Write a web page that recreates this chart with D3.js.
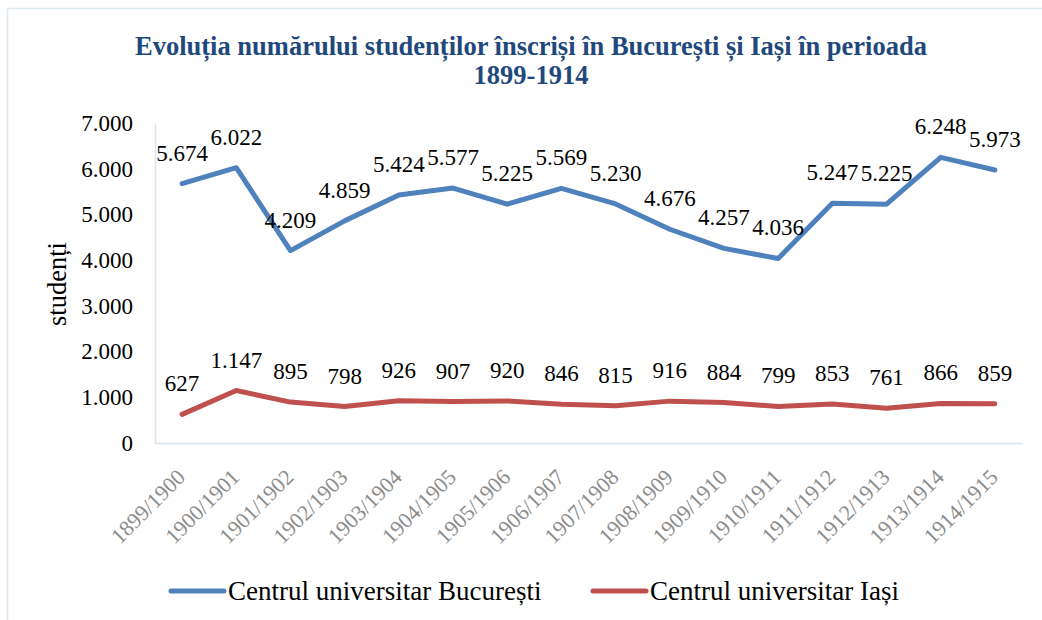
<!DOCTYPE html>
<html>
<head>
<meta charset="utf-8">
<script src="https://cdn.jsdelivr.net/npm/d3@7"></script>
<style>
  body { margin: 0; background: #fff; }
  svg { display: block; font-family: "Liberation Serif", "Times New Roman", serif; }
</style>
</head>
<body>
<div id="chart"></div>
<script>
const years = ['1899/1900', '1900/1901', '1901/1902', '1902/1903', '1903/1904', '1904/1905',
  '1905/1906', '1906/1907', '1907/1908', '1908/1909', '1909/1910', '1910/1911',
  '1911/1912', '1912/1913', '1913/1914', '1914/1915'];
const bucuresti = [5674, 6022, 4209, 4859, 5424, 5577, 5225, 5569, 5230, 4676, 4257, 4036, 5247, 5225, 6248, 5973];
const iasi = [627, 1147, 895, 798, 926, 907, 920, 846, 815, 916, 884, 799, 853, 761, 866, 859];
const yTicks = [0, 1000, 2000, 3000, 4000, 5000, 6000, 7000];
const seriesNames = ['Centrul universitar București', 'Centrul universitar Iași'];
const titleLines = ['Evoluția numărului studenților înscriși în București și Iași în perioada', '1899-1914'];

const width = 1042, height = 620;
const margin = { top: 123, right: 20, bottom: 177, left: 155 };
const innerW = width - margin.left - margin.right;
const innerH = height - margin.top - margin.bottom;

const ro = d3.formatLocale({ decimal: ',', thousands: '.', grouping: [3], currency: ['', ' lei'] });
const fmt = ro.format(',d');

const svg = d3.select('#chart').append('svg')
  .attr('width', width)
  .attr('height', height);

// chart frame (only top/left edges fall inside the picture)
svg.append('rect')
  .attr('x', 7.5).attr('y', 8.5)
  .attr('width', width + 20).attr('height', height + 20)
  .attr('fill', 'none')
  .attr('stroke', '#dbe9f1')
  .attr('stroke-width', 1.5);

// title
svg.append('text')
  .attr('x', 531)
  .attr('text-anchor', 'middle')
  .attr('font-size', '26.5px')
  .attr('font-weight', 'bold')
  .attr('fill', '#1f497d')
  .selectAll('tspan')
  .data(titleLines)
  .enter().append('tspan')
  .attr('x', 531)
  .attr('y', (d, i) => 55 + i * 29)
  .text(d => d);

const g = svg.append('g').attr('transform', `translate(${margin.left},${margin.top})`);

const x = d3.scaleBand().domain(years).range([0, innerW]);
const y = d3.scaleLinear().domain([0, 7000]).range([innerH, 0]);
const cx = d => x(d) + x.bandwidth() / 2;

// y axis
const yAxis = d3.axisLeft(y).tickValues(yTicks).tickSize(0).tickPadding(22).tickFormat(d => fmt(d));
g.append('g')
  .call(yAxis)
  .call(s => s.select('.domain').attr('stroke', '#d5e6ef').attr('stroke-width', 1.5))
  .call(s => s.selectAll('.tick text')
    .attr('font-family', '"Liberation Serif", serif')
    .attr('font-size', '23px')
    .attr('fill', '#000'));

// x axis
const xAxis = d3.axisBottom(x).tickSize(0).tickPadding(0);
g.append('g')
  .attr('transform', `translate(0,${innerH})`)
  .call(xAxis)
  .call(s => s.select('.domain').attr('stroke', '#d5e6ef').attr('stroke-width', 1.5))
  .call(s => s.selectAll('.tick text')
    .attr('font-family', '"Liberation Serif", serif')
    .attr('font-size', '22px')
    .attr('fill', '#8c8c8c')
    .attr('text-anchor', 'end')
    .attr('dy', '0.35em')
    .attr('transform', 'translate(-1,30) rotate(-45)'));

// y axis title
svg.append('text')
  .attr('transform', 'translate(57,284) rotate(-90)')
  .attr('text-anchor', 'middle')
  .attr('dy', '0.35em')
  .attr('font-size', '26.5px')
  .attr('fill', '#000')
  .text('studenți');

const series = [
  { name: seriesNames[0], values: bucuresti, color: '#4f81bd' },
  { name: seriesNames[1], values: iasi, color: '#c0504d' }
];

const line = d3.line()
  .x((d, i) => cx(years[i]))
  .y(d => y(d));

series.forEach(s => {
  g.append('path')
    .datum(s.values)
    .attr('fill', 'none')
    .attr('stroke', s.color)
    .attr('stroke-width', 5)
    .attr('stroke-linejoin', 'round')
    .attr('stroke-linecap', 'round')
    .attr('d', line);

  g.selectAll(null)
    .data(s.values)
    .enter().append('text')
    .attr('x', (d, i) => cx(years[i]))
    .attr('y', d => y(d) - 23)
    .attr('text-anchor', 'middle')
    .attr('font-size', '23px')
    .attr('fill', '#000')
    .text(d => fmt(d));
});

// legend
const legendX = [171, 593];
const legend = svg.append('g');
series.forEach((s, i) => {
  legend.append('line')
    .attr('x1', legendX[i]).attr('x2', legendX[i] + 53)
    .attr('y1', 591).attr('y2', 591)
    .attr('stroke', s.color)
    .attr('stroke-width', 5)
    .attr('stroke-linecap', 'round');
  legend.append('text')
    .attr('x', legendX[i] + 57)
    .attr('y', 600)
    .attr('font-size', '27px')
    .attr('fill', '#000')
    .text(s.name);
});
</script>
</body>
</html>
